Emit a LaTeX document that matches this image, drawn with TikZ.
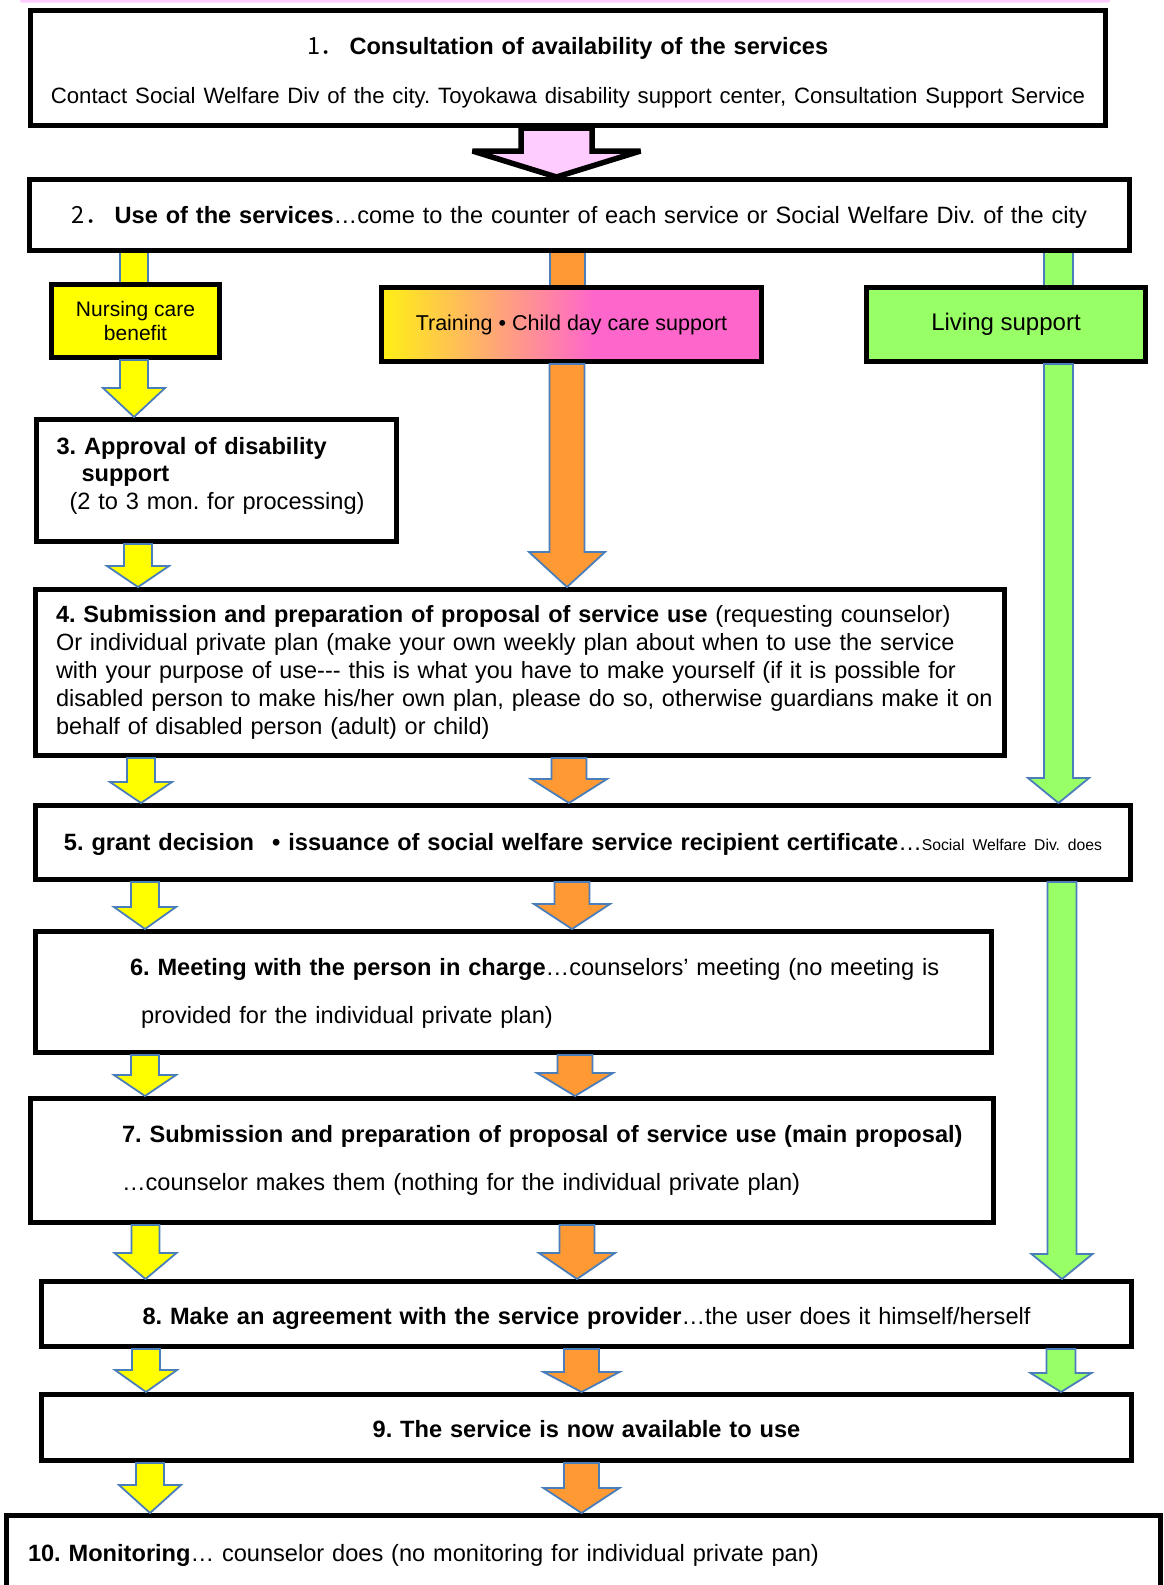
\documentclass[tikz,border=0pt]{standalone}
\usepackage{fontspec}
\setmainfont{Liberation Sans}
\newfontfamily\cjkfont{Noto Sans CJK JP}
\usepackage{xcolor}
\usetikzlibrary{calc, backgrounds}
\frenchspacing

\definecolor{yellowc}{RGB}{255,255,0}
\definecolor{orangec}{RGB}{255,153,51}
\definecolor{greenc}{RGB}{153,255,102}
\definecolor{pinkc}{RGB}{255,204,255}
\definecolor{pinkg}{RGB}{255,102,204}
\definecolor{yellowg}{RGB}{255,240,20}
\definecolor{arrblue}{RGB}{74,126,187}

\pgfdeclarehorizontalshading{trainshade}{100bp}{color(0bp)=(yellowg); color(25bp)=(yellowg); color(53bp)=(pinkg); color(100bp)=(pinkg)}

\newcommand{\bodyfont}{\fontsize{23.6}{28}\selectfont}
\newcommand{\fullline}[1]{\makebox[928pt][s]{#1}}
\newcommand{\flowarrow}[5][23]{%
  \draw[#2] let \p1=(#3.south), \p2=(#4.north) in
    (#5pt-\shaftw,\y1) -- (#5pt+\shaftw,\y1) -- (#5pt+\shaftw,\y2+#1pt)
    -- (#5pt+\headw,\y2+#1pt) -- (#5pt,\y2) -- (#5pt-\headw,\y2+#1pt)
    -- (#5pt-\shaftw,\y2+#1pt) -- cycle;}
\newcommand{\flowshaft}[4]{%
  \draw[#1] let \p1=(#2.south), \p2=(#3.north) in
    (#4pt-\shaftw,\y1+6pt) rectangle (#4pt+\shaftw,\y2-6pt);}

\begin{document}
\begin{tikzpicture}[
  x=1pt, y=-1pt,
  stepbox/.style={draw, line width=5pt, fill=white, inner xsep=20pt, inner ysep=0pt, font=\bodyfont},
  catbox/.style={draw, line width=5pt, align=center, inner sep=0pt},
  yarr/.style={fill=yellowc, draw=arrblue, line width=1.8pt, /utils/exec={\def\shaftw{14pt}\def\headw{31pt}}},
  oarr/.style={fill=orangec, draw=arrblue, line width=1.8pt, /utils/exec={\def\shaftw{17.5pt}\def\headw{38pt}}},
  garr/.style={fill=greenc, draw=arrblue, line width=1.8pt, /utils/exec={\def\shaftw{14.5pt}\def\headw{30.5pt}}},
  parr/.style={fill=pinkc, draw=black, line width=5.5pt, miter limit=2.5, /utils/exec={\def\shaftw{35.5pt}\def\headw{84pt}}}
]
\useasboundingbox (0,0) rectangle (1163,1585);
\fill[pinkc, rounded corners=2pt] (20,-6) rectangle (1110,2.5);

\node[stepbox, minimum width=1075pt, minimum height=115pt, text width=1055pt, inner xsep=10pt, align=center] (consult) at (568,68)
  {\rule{0pt}{26pt}{\cjkfont 1．}\hspace{5pt}\textbf{Consultation of availability of the services}\\[21pt]
   {\fontsize{22.2}{27}\selectfont Contact Social Welfare Div of the city. Toyokawa disability support center, Consultation Support Service}};
\node[stepbox, minimum width=1100pt, minimum height=71pt, text width=1080pt, inner xsep=10pt, align=center] (usesvc) at (579.5,215)
  {\rule{0pt}{21pt}{\cjkfont 2．}\hspace{6pt}\textbf{Use of the services}…come to the counter of each service or Social Welfare Div. of the city};
\node[catbox, fill=yellowc, minimum width=168pt, minimum height=73pt, font={\fontsize{21}{24.5}\selectfont}] (nurs) at (135.5,321) {Nursing care\\benefit};
\node[catbox, shade, shading=trainshade, minimum width=380pt, minimum height=74pt, font={\fontsize{21.5}{25}\selectfont}] (train) at (571.5,324.5) {Training • Child day care support};
\node[catbox, fill=greenc, minimum width=279pt, minimum height=74pt, font={\fontsize{24}{28}\selectfont}] (living) at (1006,324.5) {Living support};
\node[stepbox, minimum height=122pt, text width=320pt, align=left, font={\fontsize{23.6}{27.5}\selectfont}] (approval) at (216.5,480.5)
  {\textbf{3. Approval of disability}\\
   \hspace*{25pt}\textbf{support}\\
   \hspace*{13pt}(2 to 3 mon. for processing)\rule[-15pt]{0pt}{0pt}};
\node[stepbox, minimum height=166pt, text width=928pt, inner xsep=20.5pt, align=left, font={\fontsize{23.5}{28}\selectfont}] (proposal) at (520,672.5)
  {\textbf{4. Submission and preparation of proposal of service use} (requesting counselor)\\
   \fullline{Or individual private plan (make your own weekly plan about when to use the service}\\
   \fullline{with your purpose of use-{}-{}- this is what you have to make yourself (if it is possible for}\\
   \fullline{disabled person to make his/her own plan, please do so, otherwise guardians make it on}\\
   behalf of disabled person (adult) or child)};
\node[stepbox, minimum height=74pt, text width=1075pt, inner xsep=10pt, align=center] (grant) at (583,842.5)
  {\rule{0pt}{20pt}\textbf{5. grant decision\hspace{18pt}•\hspace{8pt}issuance of social welfare service recipient certificate}…{\fontsize{15.7}{19}\selectfont Social Welfare Div. does}};
\node[stepbox, minimum height=121pt, text width=916pt, align=left] (meeting) at (513.5,992)
  {\rule{0pt}{20pt}\hspace*{74.5pt}\textbf{6. Meeting with the person in charge}…counselors’ meeting (no meeting is\\[20pt]
   \hspace*{85.5pt}provided for the individual private plan)};
\node[stepbox, minimum height=124pt, text width=943pt, inner xsep=10pt, align=left] (mainprop) at (512,1160.5)
  {\hspace*{81.5pt}\textbf{7. Submission and preparation of proposal of service use (main proposal)}\\[20pt]
   \hspace*{81.5pt}…counselor makes them (nothing for the individual private plan)};
\node[stepbox, minimum height=65pt, text width=1070pt, inner xsep=10pt, align=center] (agree) at (586.5,1314)
  {\rule{0pt}{25pt}\textbf{8. Make an agreement with the service provider}…the user does it himself/herself};
\node[stepbox, minimum height=66pt, text width=1070pt, inner xsep=10pt, align=center] (avail) at (586.5,1427.5)
  {\rule{0pt}{21pt}\textbf{9. The service is now available to use}};
\node[stepbox, anchor=north west, minimum height=75pt, text width=1111pt, inner xsep=21.5pt, align=left] (monitor) at (4,1513)
  {\rule{0pt}{21pt}\textbf{10. Monitoring}… counselor does (no monitoring for individual private pan)};

\begin{scope}[on background layer]
\flowshaft{yarr}{usesvc}{nurs}{134}
\flowshaft{oarr}{usesvc}{train}{567.5}
\flowshaft{garr}{usesvc}{living}{1058.5}
\end{scope}

\flowarrow[26]{parr}{consult}{usesvc}{556.5}
\flowarrow[29]{yarr}{nurs}{approval}{134}
\flowarrow[21]{yarr}{approval}{proposal}{138}
\flowarrow[21]{yarr}{proposal}{grant}{141}
\flowarrow[22]{yarr}{grant}{meeting}{145}
\flowarrow[21]{yarr}{meeting}{mainprop}{145}
\flowarrow[26]{yarr}{mainprop}{agree}{145.5}
\flowarrow[22]{yarr}{agree}{avail}{146}
\flowarrow[28]{yarr}{avail}{monitor}{150}
\flowarrow[35]{oarr}{train}{proposal}{567}
\flowarrow[24]{oarr}{proposal}{grant}{569}
\flowarrow[25]{oarr}{grant}{meeting}{572}
\flowarrow[23]{oarr}{meeting}{mainprop}{575}
\flowarrow[26]{oarr}{mainprop}{agree}{577}
\flowarrow[20]{oarr}{agree}{avail}{581.5}
\flowarrow[25]{oarr}{avail}{monitor}{581.5}
\flowarrow[25]{garr}{living}{grant}{1058.5}
\flowarrow[25]{garr}{grant}{agree}{1062}
\flowarrow[19]{garr}{agree}{avail}{1061}
\end{tikzpicture}
\end{document}
